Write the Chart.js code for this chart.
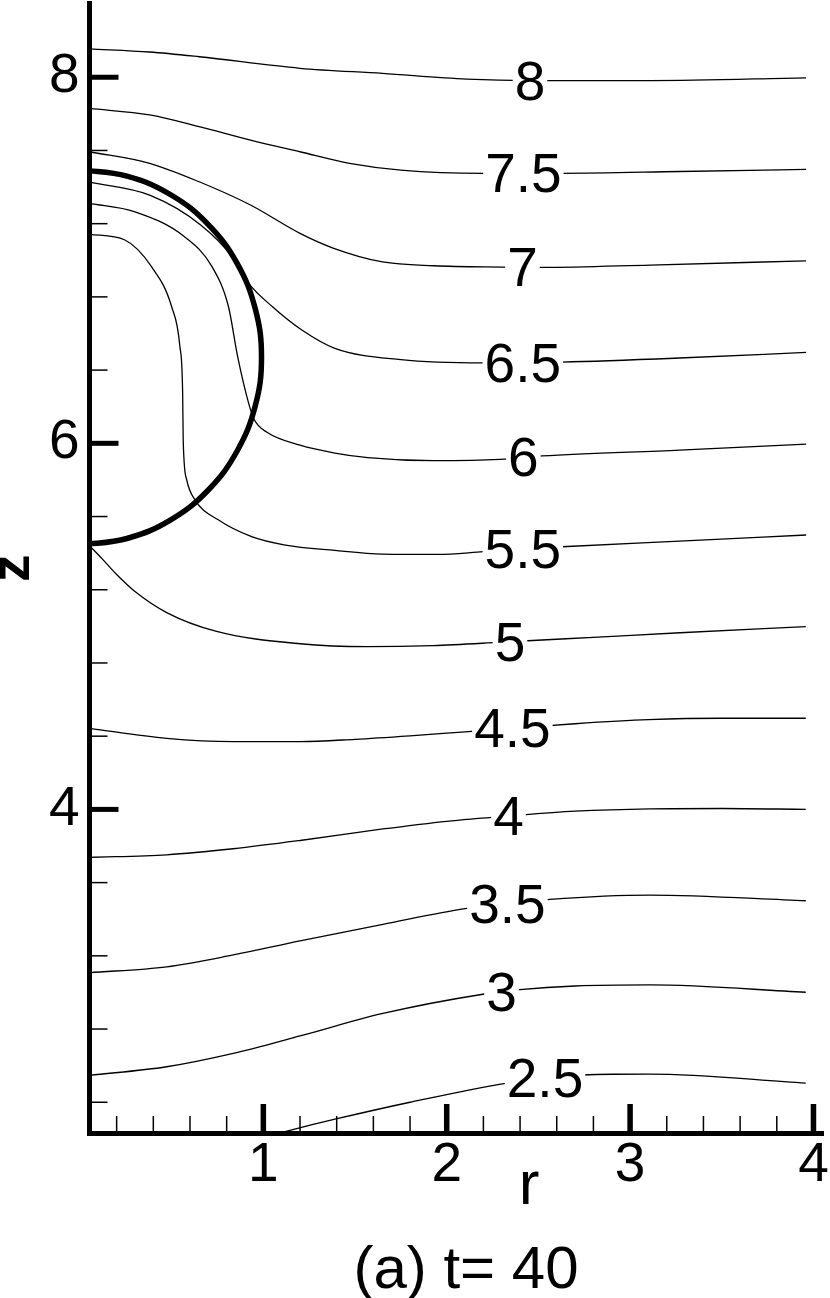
<!DOCTYPE html>
<html>
<head>
<meta charset="utf-8">
<script src="https://cdn.jsdelivr.net/npm/chart.js@4.4.1/dist/chart.umd.min.js"></script>
<style>
  html, body { margin: 0; padding: 0; background: #fff; }
  #wrap { width: 830px; height: 1298px; position: relative; }
</style>
</head>
<body>
<div id="wrap"><canvas id="myChart"></canvas></div>
<script>
// contour levels, top to bottom
var levels = ['8', '7.5', '7', '6.5', '6', '5.5', '5', '4.5', '4', '3.5', '3', '2.5'];

// contour lines (r, z)
var r8  = [0.052, 0.38, 0.65, 1.2, 1.65, 2.11, 2.45, 3.11, 3.96];
var z8  = [8.155, 8.138, 8.112, 8.049, 8.021, 7.990, 7.982, 7.982, 7.997];
var r75 = [0.052, 0.38, 0.65, 0.93, 1.2, 1.47, 1.75, 2.2, 2.63, 3.27, 3.96];
var z75 = [7.830, 7.794, 7.730, 7.657, 7.593, 7.530, 7.493, 7.475, 7.475, 7.485, 7.497];
var r7  = [0.052, 0.38, 0.65, 0.93, 1.2, 1.38, 1.65, 1.93, 2.32, 2.52, 3.11, 3.96];
var z7  = [7.593, 7.530, 7.429, 7.302, 7.147, 7.067, 6.991, 6.970, 6.963, 6.961, 6.974, 6.997];
var r65 = [0.052, 0.38, 0.66, 0.83, 0.92, 1.05, 1.21, 1.39, 1.75, 2.2, 2.63, 3.27, 3.96];
var z65 = [7.427, 7.356, 7.192, 7.019, 6.874, 6.746, 6.619, 6.519, 6.457, 6.439, 6.444, 6.466, 6.497];
var r6  = [0.052, 0.30, 0.57, 0.72, 0.81, 0.86, 0.92, 0.95, 1.02, 1.2, 1.39, 1.57, 1.93, 2.29, 2.52, 3.27, 3.96];
var z6  = [7.311, 7.265, 7.129, 6.965, 6.746, 6.473, 6.218, 6.130, 6.060, 5.990, 5.947, 5.922, 5.905, 5.912, 5.931, 5.963, 5.996];
var r55 = [0.052, 0.245, 0.39, 0.50, 0.545, 0.56, 0.563, 0.582, 0.627, 0.754, 0.936, 1.12, 1.39, 1.65, 1.95, 2.2, 2.63, 3.27, 3.96];
var z55 = [7.142, 7.111, 6.965, 6.746, 6.528, 6.273, 6.017, 5.801, 5.691, 5.582, 5.490, 5.444, 5.415, 5.395, 5.393, 5.408, 5.435, 5.466, 5.499];
var r5  = [0.052, 0.12, 0.2, 0.3, 0.473, 0.745, 1.2, 1.565, 1.925, 2.274, 2.416, 2.8, 3.272, 3.958];
var z5  = [5.440, 5.370, 5.283, 5.190, 5.075, 4.972, 4.905, 4.889, 4.895, 4.912, 4.920, 4.940, 4.965, 4.998];
var r45 = [0.052, 0.473, 0.836, 1.2, 1.5, 1.8, 2.1, 2.4, 2.7, 3.1, 3.5, 3.958];
var z45 = [4.443, 4.388, 4.370, 4.370, 4.383, 4.402, 4.424, 4.446, 4.468, 4.490, 4.498, 4.498];
var r4  = [0.052, 0.473, 0.836, 1.2, 1.652, 2.0, 2.35, 2.7, 3.108, 3.5, 3.958];
var z4  = [3.738, 3.752, 3.785, 3.830, 3.893, 3.935, 3.965, 3.990, 4.003, 4.005, 4.000];
var r35 = [0.052, 0.473, 0.836, 1.2, 1.652, 2.11, 2.563, 3.108, 3.958];
var z35 = [3.108, 3.140, 3.205, 3.282, 3.372, 3.459, 3.508, 3.532, 3.501];
var r3  = [0.052, 0.473, 0.836, 1.2, 1.652, 2.197, 2.399, 2.7, 3.108, 3.958];
var z3  = [2.547, 2.594, 2.667, 2.762, 2.885, 2.990, 3.015, 3.035, 3.041, 3.001];
var r25 = [1.05, 1.118, 1.402, 1.8, 2.329, 2.6, 2.9, 3.108, 3.958];
var z25 = [2.222, 2.240, 2.310, 2.400, 2.505, 2.540, 2.553, 2.554, 2.505];

// bubble interface (thick curve)
var bubbleR = [0, 0.256, 0.495, 0.700, 0.857, 0.956, 0.990, 0.956, 0.857, 0.700, 0.495, 0.256, 0];
var bubbleZ = [7.495, 7.460, 7.358, 7.195, 6.983, 6.735, 6.470, 6.205, 5.958, 5.745, 5.582, 5.480, 5.445];

// r where each level label sits on its line
var labelR = [2.454, 2.418, 2.413, 2.415, 2.418, 2.415, 2.345, 2.358, 2.337, 2.331, 2.299, 2.536];

// axis ticks
var xMajor = [1, 2, 3, 4];
var xMinor = [0.2, 0.4, 0.6, 0.8, 1.2, 1.4, 1.6, 1.8, 2.2, 2.4, 2.6, 2.8, 3.2, 3.4, 3.6, 3.8];
var yMajor = [4, 6, 8];
var yMinor = [2.4, 2.8, 3.2, 3.6, 4.4, 4.8, 5.2, 5.6, 6.4, 6.8, 7.2, 7.6];

var contourR = [r8, r75, r7, r65, r6, r55, r5, r45, r4, r35, r3, r25];
var contourZ = [z8, z75, z7, z65, z6, z55, z5, z45, z4, z35, z3, z25];

var FONT = '"Liberation Sans", Arial, Helvetica, sans-serif';
Chart.defaults.font.family = FONT;
Chart.defaults.color = '#000';

function toPoints(rs, zs) {
    return rs.map(function (r, k) { return { x: r, y: zs[k] }; });
}

// z of a line at a given r (only used to seat the labels)
function zOnLine(rs, zs, r) {
    for (var k = 0; k < rs.length - 1; k++) {
        if (r >= rs[k] && r <= rs[k + 1]) {
            var t = (r - rs[k]) / (rs[k + 1] - rs[k]);
            return zs[k] + t * (zs[k + 1] - zs[k]);
        }
    }
    return zs[zs.length - 1];
}

var datasets = levels.map(function (lv, i) {
    return {
        label: lv,
        data: toPoints(contourR[i], contourZ[i]),
        showLine: true,
        borderColor: '#000',
        borderWidth: 1.3,
        pointRadius: 0,
        cubicInterpolationMode: 'monotone',
        fill: false
    };
});
datasets.push({
    label: 'bubble',
    data: toPoints(bubbleR, bubbleZ),
    showLine: true,
    borderColor: '#000',
    borderWidth: 5.5,
    pointRadius: 0,
    tension: 0.4,
    fill: false
});

var extras = {
    id: 'extras',
    afterDatasetsDraw: function (chart) {
        var ctx = chart.ctx, xs = chart.scales.x, ys = chart.scales.y, a = chart.chartArea;
        ctx.save();
        ctx.strokeStyle = '#000';
        ctx.lineCap = 'butt';

        // ticks point into the plot
        function yTick(v, len, w) {
            var p = ys.getPixelForValue(v);
            ctx.lineWidth = w;
            ctx.beginPath(); ctx.moveTo(a.left, p); ctx.lineTo(a.left + len, p); ctx.stroke();
        }
        function xTick(v, len, w) {
            var p = xs.getPixelForValue(v);
            ctx.lineWidth = w;
            ctx.beginPath(); ctx.moveTo(p, a.bottom); ctx.lineTo(p, a.bottom - len); ctx.stroke();
        }
        yMinor.forEach(function (v) { yTick(v, 18, 1.5); });
        yMajor.forEach(function (v) { yTick(v, 29, 5); });
        xMinor.forEach(function (v) { xTick(v, 17, 1.5); });
        xMajor.forEach(function (v) { xTick(v, 29, 5.5); });

        // contour labels with a white gap
        ctx.font = '55px ' + FONT;
        ctx.textAlign = 'center';
        ctx.textBaseline = 'alphabetic';
        levels.forEach(function (lv, i) {
            var px = xs.getPixelForValue(labelR[i]);
            var py = ys.getPixelForValue(zOnLine(contourR[i], contourZ[i], labelR[i]));
            var w = ctx.measureText(lv).width;
            ctx.fillStyle = '#fff';
            ctx.fillRect(px - w / 2 - 2, py - 22, w + 4, 44);
            ctx.fillStyle = '#000';
            ctx.fillText(lv, px, py + 19);
        });
        ctx.restore();
    },
    afterDraw: function (chart) {
        var ctx = chart.ctx;
        ctx.save();
        ctx.fillStyle = '#000';
        ctx.textAlign = 'center';
        ctx.textBaseline = 'alphabetic';
        ctx.font = '62px ' + FONT;
        ctx.fillText('r', 529, 1204);
        ctx.font = '60px ' + FONT;
        ctx.fillText('(a) t= 40', 466, 1288);
        ctx.restore();
    }
};

var ctx = document.getElementById('myChart').getContext('2d');
var myChart = new Chart(ctx, {
    type: 'scatter',
    data: { datasets: datasets },
    plugins: [extras],
    options: {
        animation: false,
        responsive: true,
        maintainAspectRatio: false,
        layout: { padding: { left: 0, right: 7, top: 3.3, bottom: 0 } },
        plugins: {
            legend: { display: false },
            tooltip: { enabled: false },
            title: { display: false }
        },
        scales: {
            x: {
                type: 'linear',
                min: 0.052,
                max: 4.052,
                afterBuildTicks: function (s) { s.ticks = xMajor.map(function (v) { return { value: v }; }); },
                afterFit: function (s) { s.height = 165; s.paddingLeft = 0; s.paddingRight = 0; },
                grid: { display: false, drawTicks: false },
                border: { display: true, color: '#000', width: 5 },
                ticks: { color: '#000', font: { size: 55 }, padding: 0, maxRotation: 0, autoSkip: false }
            },
            y: {
                type: 'linear',
                min: 2.232,
                max: 8.404,
                afterBuildTicks: function (s) { s.ticks = yMajor.map(function (v) { return { value: v }; }); },
                afterFit: function (s) { s.width = 89.5; s.paddingTop = 0; s.paddingBottom = 0; },
                grid: { display: false, drawTicks: false },
                border: { display: true, color: '#000', width: 5 },
                ticks: { color: '#000', font: { size: 55 }, padding: 10, autoSkip: false },
                title: {
                    display: true,
                    text: 'z',
                    color: '#000',
                    font: { size: 55, weight: 'bold', lineHeight: 0.5 },
                    padding: 0
                }
            }
        }
    }
});
</script>
</body>
</html>
